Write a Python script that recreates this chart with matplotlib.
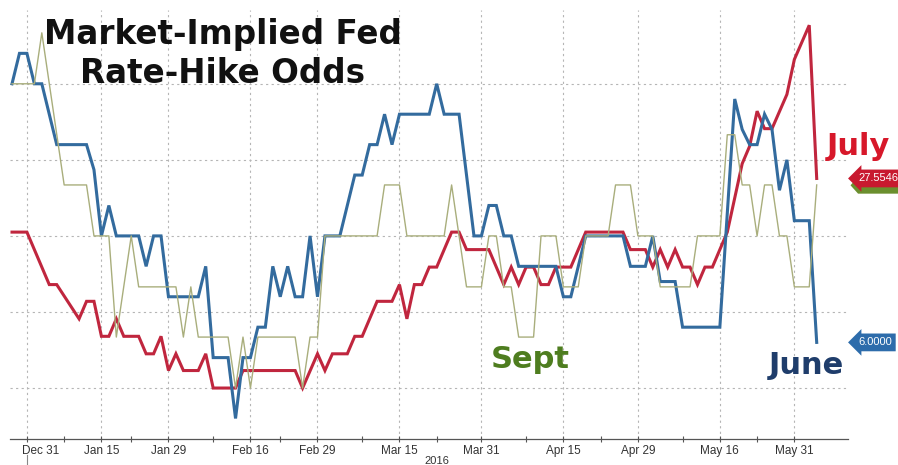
import matplotlib
matplotlib.use('Agg')
import matplotlib.pyplot as plt
import pandas as pd
from matplotlib.patches import Polygon
from matplotlib.transforms import blended_transform_factory, ScaledTranslation

# US trading days shown on the chart (exchange holidays skipped)
HOLIDAYS = ['2016-01-01', '2016-01-18', '2016-02-15', '2016-03-25', '2016-05-30']
DAYS = [d.strftime('%Y-%m-%d') for d in pd.bdate_range('2015-12-29', '2016-06-03')
        if d.strftime('%Y-%m-%d') not in HOLIDAYS]

TICK_DATES = ['2015-12-31', '2016-01-15', '2016-01-29', '2016-02-16', '2016-02-29', '2016-03-15',
              '2016-03-31', '2016-04-15', '2016-04-29', '2016-05-16', '2016-05-31']
TICK_LABELS = ['Dec 31', 'Jan 15', 'Jan 29', 'Feb 16', 'Feb 29', 'Mar 15',
               'Mar 31', 'Apr 15', 'Apr 29', 'May 16', 'May 31']
MINOR_DATES = ['2016-01-08', '2016-01-22', '2016-02-08', '2016-02-22', '2016-03-08',
               '2016-03-22', '2016-04-08', '2016-04-22', '2016-05-09', '2016-05-23']

# June meeting hike odds (%), vertices of the line
june_dates = ['2015-12-29', '2015-12-30', '2015-12-31', '2016-01-04', '2016-01-05', '2016-01-07',
              '2016-01-13', '2016-01-14', '2016-01-15', '2016-01-19', '2016-01-20', '2016-01-25',
              '2016-01-26', '2016-01-27', '2016-01-28', '2016-01-29', '2016-02-04', '2016-02-05',
              '2016-02-08', '2016-02-10', '2016-02-11', '2016-02-12', '2016-02-16', '2016-02-17',
              '2016-02-18', '2016-02-19', '2016-02-22', '2016-02-23', '2016-02-24', '2016-02-25',
              '2016-02-26', '2016-02-29', '2016-03-01', '2016-03-03', '2016-03-07', '2016-03-08',
              '2016-03-09', '2016-03-10', '2016-03-11', '2016-03-14', '2016-03-15', '2016-03-21',
              '2016-03-22', '2016-03-23', '2016-03-28', '2016-03-30', '2016-03-31', '2016-04-01',
              '2016-04-04', '2016-04-05', '2016-04-06', '2016-04-07', '2016-04-14', '2016-04-15',
              '2016-04-18', '2016-04-20', '2016-04-27', '2016-04-28', '2016-05-02', '2016-05-03',
              '2016-05-04', '2016-05-06', '2016-05-09', '2016-05-16', '2016-05-18', '2016-05-19',
              '2016-05-20', '2016-05-23', '2016-05-24', '2016-05-25', '2016-05-26', '2016-05-27',
              '2016-05-31', '2016-06-02', '2016-06-03']
june_vals = [40, 44, 44, 40, 40, 32,
             32, 28.7, 20, 24, 20, 20,
             16, 20, 20, 12, 12, 16,
             4, 4, -4, 4, 4, 8,
             8, 16, 12, 16, 12, 12,
             20, 12, 20, 20, 28, 28,
             32, 32, 36, 32, 36, 36,
             40, 36, 36, 20, 20, 24,
             24, 20, 20, 16, 16, 12,
             12, 20, 20, 16, 16, 20,
             14, 14, 8, 8, 38, 34,
             32, 32, 36, 34, 26, 30,
             22, 22, 6.0]

# July meeting hike odds (%)
july_dates = ['2015-12-29', '2015-12-31', '2016-01-06', '2016-01-07', '2016-01-12', '2016-01-13',
              '2016-01-14', '2016-01-15', '2016-01-19', '2016-01-20', '2016-01-21', '2016-01-25',
              '2016-01-26', '2016-01-27', '2016-01-28', '2016-01-29', '2016-02-01', '2016-02-02',
              '2016-02-04', '2016-02-05', '2016-02-08', '2016-02-11', '2016-02-12', '2016-02-24',
              '2016-02-25', '2016-02-29', '2016-03-01', '2016-03-02', '2016-03-04', '2016-03-07',
              '2016-03-08', '2016-03-09', '2016-03-10', '2016-03-14', '2016-03-15', '2016-03-16',
              '2016-03-17', '2016-03-18', '2016-03-21', '2016-03-22', '2016-03-24', '2016-03-28',
              '2016-03-29', '2016-04-01', '2016-04-05', '2016-04-06', '2016-04-07', '2016-04-08',
              '2016-04-11', '2016-04-12', '2016-04-13', '2016-04-14', '2016-04-18', '2016-04-20',
              '2016-04-27', '2016-04-28', '2016-05-02', '2016-05-03', '2016-05-04', '2016-05-05',
              '2016-05-06', '2016-05-09', '2016-05-10', '2016-05-11', '2016-05-12', '2016-05-13',
              '2016-05-16', '2016-05-17', '2016-05-19', '2016-05-20', '2016-05-23', '2016-05-24',
              '2016-05-25', '2016-05-27', '2016-05-31', '2016-06-02', '2016-06-03']
july_vals = [20.5, 20.5, 13.6, 13.6, 9.1, 11.4,
             11.4, 6.8, 6.8, 9.1, 6.8, 6.8,
             4.5, 4.5, 6.8, 2.3, 4.5, 2.3,
             2.3, 4.5, 0, 0, 2.3, 2.3,
             0, 4.5, 2.3, 4.5, 4.5, 6.8,
             6.8, 9.1, 11.4, 11.4, 13.6, 9.1,
             13.6, 13.6, 15.9, 15.9, 20.5, 20.5,
             18.2, 18.2, 13.6, 15.9, 13.6, 15.9,
             15.9, 13.6, 13.6, 15.9, 15.9, 20.5,
             20.5, 18.2, 18.2, 15.9, 18.2, 15.9,
             18.2, 15.9, 15.9, 13.6, 15.9, 15.9,
             18.2, 20.5, 29.5, 31.8, 36.4, 34.1,
             34.1, 38.6, 43.2, 47.7, 27.5546]

# September meeting hike odds (%)
sept_dates = ['2015-12-29', '2016-01-04', '2016-01-05', '2016-01-08', '2016-01-13', '2016-01-14',
              '2016-01-19', '2016-01-20', '2016-01-22', '2016-01-25', '2016-02-01', '2016-02-02',
              '2016-02-03', '2016-02-04', '2016-02-10', '2016-02-11', '2016-02-12', '2016-02-16',
              '2016-02-17', '2016-02-24', '2016-02-25', '2016-02-26', '2016-02-29', '2016-03-01',
              '2016-03-10', '2016-03-11', '2016-03-15', '2016-03-16', '2016-03-23', '2016-03-24',
              '2016-03-29', '2016-03-31', '2016-04-01', '2016-04-04', '2016-04-05', '2016-04-06',
              '2016-04-07', '2016-04-11', '2016-04-12', '2016-04-14', '2016-04-15', '2016-04-19',
              '2016-04-20', '2016-04-25', '2016-04-26', '2016-04-28', '2016-04-29', '2016-05-03',
              '2016-05-04', '2016-05-10', '2016-05-11', '2016-05-16', '2016-05-17', '2016-05-18',
              '2016-05-19', '2016-05-20', '2016-05-23', '2016-05-24', '2016-05-25', '2016-05-26',
              '2016-05-27', '2016-05-31', '2016-06-02', '2016-06-03']
sept_vals = [40, 40, 46.7, 26.7, 26.7, 20,
             20, 6.7, 20, 13.3, 13.3, 6.7,
             13.3, 6.7, 6.7, 0, 6.7, 0,
             6.7, 6.7, 0, 6.7, 6.7, 20,
             20, 26.7, 26.7, 20, 20, 26.7,
             13.3, 13.3, 20, 20, 13.3, 13.3,
             6.7, 6.7, 20, 20, 13.3, 13.3,
             20, 20, 26.7, 26.7, 20, 20,
             13.3, 13.3, 20, 20, 33.3, 33.3,
             26.7, 26.7, 20, 26.7, 26.7, 20,
             20, 13.3, 13.3, 26.7]

BLUE = '#336b9e'
RED = '#c0263e'
OLIVE = '#a9ae7c'


def idx(dates):
    pos = {d: i for i, d in enumerate(DAYS)}
    return [pos[d] for d in dates]


def main() -> None:
    fig = plt.figure(figsize=(8.98, 4.65), dpi=100)
    ax = fig.add_axes([10 / 898, 26 / 465, 838 / 898, 429 / 465])

    ax.plot(idx(july_dates), july_vals, color=RED, linewidth=2.2, zorder=3, solid_joinstyle='miter')
    ax.plot(idx(june_dates), june_vals, color=BLUE, linewidth=2.2, zorder=4, solid_joinstyle='miter')
    ax.plot(idx(sept_dates), sept_vals, color=OLIVE, linewidth=1.0, zorder=5)

    ax.set_xlim(-0.27, 112.2)
    ax.set_ylim(-6.7, 49.7)

    ax.set_xticks(idx(TICK_DATES))
    ax.set_xticklabels(TICK_LABELS, fontsize=8.5, color='#333333', family='Liberation Sans')
    ax.set_xticks(idx(MINOR_DATES), minor=True)
    ax.set_yticks([0, 10, 20, 30, 40])
    ax.tick_params(axis='y', left=False, labelleft=False)
    ax.tick_params(axis='x', which='major', direction='inout', length=5, width=0.8,
                   color='#555555', pad=1.5)
    ax.tick_params(axis='x', which='minor', direction='inout', length=4, width=0.8,
                   color='#555555')
    ax.grid(True, which='major', color='#b5b5b5', linestyle=(0, (2, 3)), linewidth=0.8)
    for s in ('top', 'left', 'right'):
        ax.spines[s].set_visible(False)
    ax.spines['bottom'].set_color('#555555')
    ax.spines['bottom'].set_linewidth(0.9)

    # first label sits a little to the right of its tick
    t0 = ax.xaxis.get_major_ticks()[0].label1
    t0.set_transform(t0.get_transform() + ScaledTranslation(14 / 100, 0, fig.dpi_scale_trans))

    ax.text(idx(['2016-03-22'])[0], -9.6, '2016', fontsize=8, color='#333333',
            family='Liberation Sans', ha='center', va='center', clip_on=False)
    ax.plot([2, 2], [-8.8, -10.5], color='#888888', linewidth=0.8, clip_on=False)

    fig.text(223 / 898, 1 - 54 / 465, 'Market-Implied Fed\nRate-Hike Odds', ha='center',
             va='center', fontsize=23.5, fontweight='bold', color='#111111', linespacing=1.2)

    ax.text(109.4, 30.7, 'July', fontsize=22, fontweight='bold', color='#d7182a',
            ha='left', va='baseline', clip_on=False)
    ax.text(69.5, 2.6, 'Sept', fontsize=22, fontweight='bold', color='#4e7d1f',
            ha='center', va='baseline')
    ax.text(106.6, 1.8, 'June', fontsize=22, fontweight='bold', color='#1f3d6b',
            ha='center', va='baseline', clip_on=False)

    # value tags at the right edge; Sept's tag is mostly hidden behind July's
    trans = blended_transform_factory(ax.transAxes, ax.transData)
    y0 = july_vals[-1] - 0.9
    ax.add_patch(Polygon([(1.003, y0), (1.012, y0 + 1.1), (1.08, y0 + 1.1),
                          (1.08, y0 - 1.1), (1.012, y0 - 1.1)], closed=True,
                         transform=trans, fc='#6b8f2e', ec='none', clip_on=False, zorder=2.5))
    tag = dict(fontsize=8, color='white', family='Liberation Sans', ha='left', va='center',
               transform=trans, clip_on=False, zorder=3)
    ax.text(1.012, july_vals[-1], '27.5546',
            bbox=dict(boxstyle='larrow,pad=0.35', fc='#c8192f', ec='none'), **tag)
    ax.text(1.012, june_vals[-1], '6.0000',
            bbox=dict(boxstyle='larrow,pad=0.35', fc='#2d6cab', ec='none'), **tag)

    fig.savefig('out.png', dpi=100)
    plt.close(fig)


if __name__ == '__main__':
    main()
